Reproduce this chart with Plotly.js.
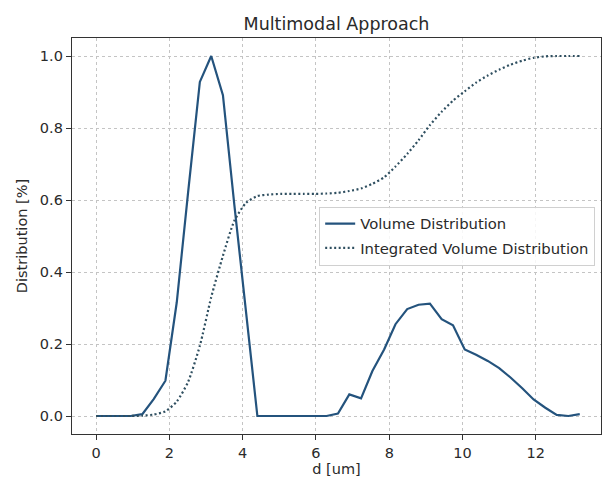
<!DOCTYPE html>
<html>
<head>
<meta charset="utf-8">
<script src="https://cdn.plot.ly/plotly-3.0.1.min.js"></script>
<style>html,body{margin:0;padding:0;background:#fff;}#chart{width:603px;height:477px;}</style>
</head>
<body>
<div id="chart"></div>
<script>
// diameters d [um]
var diameters = [0, 0.31, 0.63, 0.94, 1.26, 1.57, 1.89, 2.2, 2.51, 2.83, 3.14, 3.46, 3.77, 4.09, 4.4, 4.71, 5.03, 5.34, 5.66, 5.97, 6.29, 6.6, 6.91, 7.23, 7.54, 7.86, 8.17, 8.49, 8.8, 9.11, 9.43, 9.74, 10.06, 10.37, 10.69, 11.0, 11.31, 11.63, 11.94, 12.26, 12.57, 12.89, 13.2];
// Volume Distribution
var volumeDist = [0, 0, 0, 0, 0.005, 0.047, 0.098, 0.316, 0.622, 0.928, 1.0, 0.891, 0.588, 0.288, 0, 0, 0, 0, 0, 0, 0, 0.007, 0.060, 0.049, 0.125, 0.185, 0.255, 0.297, 0.309, 0.312, 0.269, 0.252, 0.185, 0.170, 0.153, 0.133, 0.107, 0.077, 0.046, 0.023, 0.003, 0.0, 0.005];
// Integrated Volume Distribution
var integratedDist = [0, 0, 0, 0, 0.001, 0.004, 0.013, 0.04, 0.095, 0.195, 0.33, 0.445, 0.542, 0.592, 0.611, 0.615, 0.617, 0.617, 0.617, 0.617, 0.618, 0.620, 0.625, 0.632, 0.645, 0.663, 0.693, 0.728, 0.766, 0.808, 0.845, 0.876, 0.902, 0.926, 0.946, 0.962, 0.976, 0.987, 0.995, 0.999, 1.0, 1.0, 1.0];
var xTicks = [0, 2, 4, 6, 8, 10, 12];
var yTicks = [0.0, 0.2, 0.4, 0.6, 0.8, 1.0];

var FONT = "DejaVu Sans, sans-serif";
var traces = [
  {x: diameters, y: volumeDist, type: 'scatter', mode: 'lines', name: 'Volume Distribution',
   legendgroup: 'a', line: {color: '#24537d', width: 2.2}},
  {x: diameters, y: integratedDist, type: 'scatter', mode: 'lines', name: 'Integrated Volume Distribution',
   legendgroup: 'b', line: {color: '#2f4f60', width: 2.2, dash: '2px,2.5px', shape: 'spline', smoothing: 0.6}}
];
var axisCommon = {
  showline: true, mirror: true, linecolor: '#333', linewidth: 1.2,
  ticks: 'outside', ticklen: 5, tickwidth: 1, tickcolor: '#333',
  showgrid: true, gridcolor: '#c4c4c4', gridwidth: 1, griddash: '3px,3px',
  zeroline: false, tickfont: {family: FONT, size: 14.5, color: '#2a2a2a'}
};
var layout = {
  width: 603, height: 477,
  margin: {l: 72, r: 2, t: 38, b: 43, pad: 0},
  paper_bgcolor: '#fff', plot_bgcolor: '#fff',
  font: {family: FONT, color: '#2a2a2a'},
  title: {text: 'Multimodal Approach', font: {family: FONT, size: 17.5, color: '#2a2a2a'},
          x: 0.5, xref: 'paper', y: 1 - 24/477, yref: 'container', yanchor: 'middle'},
  xaxis: Object.assign({}, axisCommon, {
    range: [-0.66, 13.78], tickvals: xTicks, ticktext: xTicks.map(String),
    title: {text: 'd [um]', font: {family: FONT, size: 14.5, color: '#2a2a2a'}, standoff: 9}
  }),
  yaxis: Object.assign({}, axisCommon, {
    range: [-0.05, 1.05], tickvals: yTicks, ticktext: yTicks.map(function(v){return v.toFixed(1);}),
    title: {text: 'Distribution [%]', font: {family: FONT, size: 14.5, color: '#2a2a2a'}, standoff: 8}
  }),
  legend: {x: 0.989, xanchor: 'right', y: 0.5, yanchor: 'middle',
           traceorder: 'grouped', tracegroupgap: 2,
           bgcolor: 'rgba(255,255,255,0.85)', bordercolor: '#d0d0d0', borderwidth: 1,
           font: {family: FONT, size: 14.8, color: '#2a2a2a'}},
  showlegend: true
};
Plotly.newPlot('chart', traces, layout, {displayModeBar: false, staticPlot: true});
</script>
</body>
</html>
